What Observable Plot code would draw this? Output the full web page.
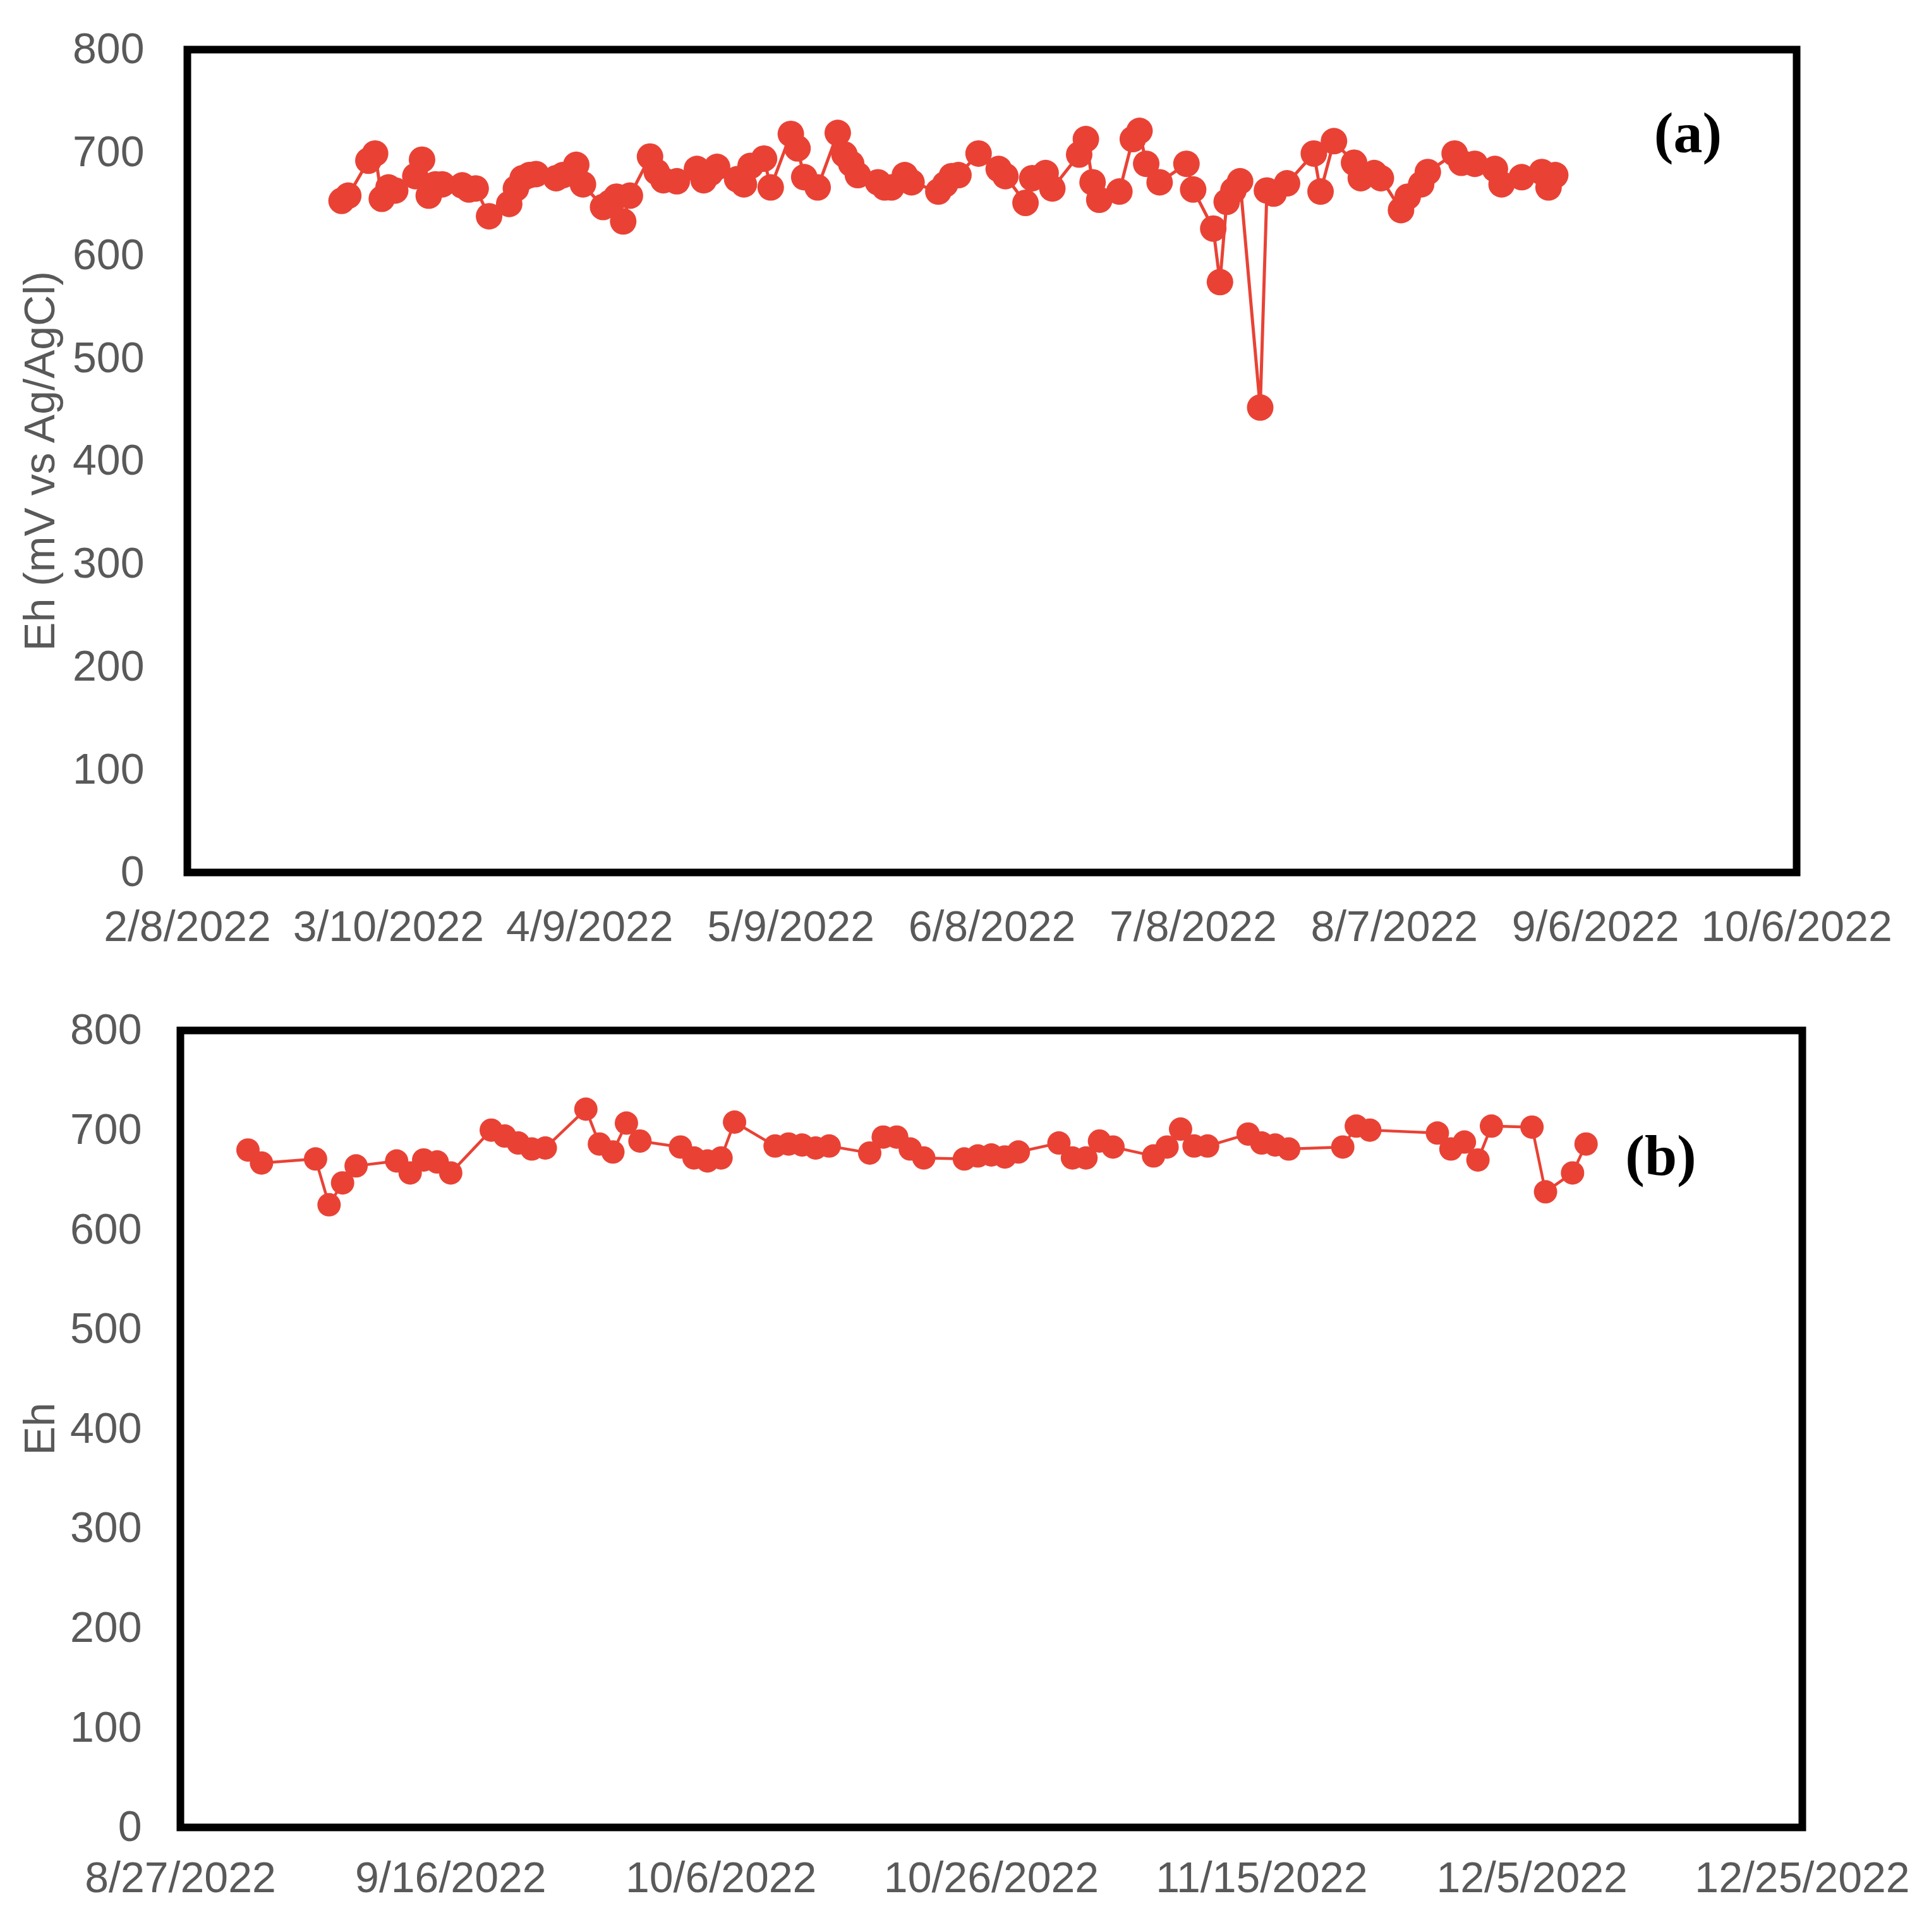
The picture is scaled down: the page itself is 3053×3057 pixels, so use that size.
<!DOCTYPE html>
<html>
<head>
<meta charset="utf-8">
<script src="https://cdn.jsdelivr.net/npm/d3@7"></script>
<script src="https://cdn.jsdelivr.net/npm/@observablehq/plot@0.6"></script>
<style>
  html, body { margin: 0; padding: 0; background: #fff; }
  svg { display: block; }
</style>
</head>
<body>
<div id="chart"></div>
<script>
// ---------- Panel (a) data ----------
const datesA = [
  "2022-03-03","2022-03-04","2022-03-07","2022-03-08","2022-03-09","2022-03-10","2022-03-11",
  "2022-03-14","2022-03-15","2022-03-16","2022-03-17","2022-03-18","2022-03-21","2022-03-22",
  "2022-03-23","2022-03-25","2022-03-28","2022-03-29","2022-03-30","2022-03-31","2022-04-01",
  "2022-04-04","2022-04-05","2022-04-07","2022-04-08","2022-04-11","2022-04-12","2022-04-13",
  "2022-04-14","2022-04-15","2022-04-18","2022-04-19","2022-04-20","2022-04-22","2022-04-25",
  "2022-04-26","2022-04-27","2022-04-28","2022-05-01","2022-05-02","2022-05-03","2022-05-05",
  "2022-05-06","2022-05-09","2022-05-10","2022-05-11","2022-05-13","2022-05-16","2022-05-17",
  "2022-05-18","2022-05-19","2022-05-22","2022-05-23","2022-05-24","2022-05-26","2022-05-27",
  "2022-05-31","2022-06-01","2022-06-02","2022-06-03","2022-06-06","2022-06-09","2022-06-10",
  "2022-06-13","2022-06-14","2022-06-16","2022-06-17","2022-06-21","2022-06-22","2022-06-23",
  "2022-06-24","2022-06-27","2022-06-29","2022-06-30","2022-07-01","2022-07-03","2022-07-07",
  "2022-07-08","2022-07-11","2022-07-12","2022-07-13","2022-07-14","2022-07-15","2022-07-18",
  "2022-07-19","2022-07-20","2022-07-22","2022-07-26","2022-07-27","2022-07-29","2022-08-01",
  "2022-08-02","2022-08-04","2022-08-05","2022-08-08","2022-08-09","2022-08-11","2022-08-12",
  "2022-08-16","2022-08-17","2022-08-19","2022-08-22","2022-08-23","2022-08-26","2022-08-29",
  "2022-08-30","2022-08-31"
];
const ehA = [
  653, 658, 692, 699, 655, 666, 663,
  677, 693, 658, 669, 669, 668, 664,
  665, 638, 650, 665, 675, 678, 679,
  675, 678, 688, 669, 647, 651, 657,
  633, 658, 696, 681, 673, 672, 684,
  673, 680, 686, 674, 669, 687, 694,
  666, 718, 704, 676, 666, 719, 698,
  689, 678, 671, 666, 666, 678, 671,
  662, 669, 677, 678, 699, 684, 677,
  651, 675, 680, 665, 698, 713, 671,
  654, 662, 713, 721, 689, 671, 689,
  664, 626, 574, 652, 663, 672, 452,
  663, 660, 670, 699, 662, 711, 690,
  675, 680, 675, 644, 657, 669, 681,
  699, 690, 689, 684, 669, 676, 681,
  666, 678
];
const ticksA = ["2022-02-08","2022-03-10","2022-04-09","2022-05-09","2022-06-08",
                "2022-07-08","2022-08-07","2022-09-06","2022-10-06"];

// ---------- Panel (b) data ----------
const datesB = [
  "2022-09-01","2022-09-02","2022-09-06","2022-09-07","2022-09-08","2022-09-09","2022-09-12",
  "2022-09-13","2022-09-14","2022-09-15","2022-09-16","2022-09-19","2022-09-20","2022-09-21",
  "2022-09-22","2022-09-23","2022-09-26","2022-09-27","2022-09-28","2022-09-29","2022-09-30",
  "2022-10-03","2022-10-04","2022-10-05","2022-10-06","2022-10-07","2022-10-10","2022-10-11",
  "2022-10-12","2022-10-13","2022-10-14","2022-10-17","2022-10-18","2022-10-19","2022-10-20",
  "2022-10-21","2022-10-24","2022-10-25","2022-10-26","2022-10-27","2022-10-28","2022-10-31",
  "2022-11-01","2022-11-02","2022-11-03","2022-11-04","2022-11-07","2022-11-08","2022-11-09",
  "2022-11-10","2022-11-11","2022-11-14","2022-11-15","2022-11-16","2022-11-17","2022-11-21",
  "2022-11-22","2022-11-23","2022-11-28","2022-11-29","2022-11-30","2022-12-01","2022-12-02",
  "2022-12-05","2022-12-06","2022-12-08","2022-12-09"
];
const ehB = [
  680, 667, 671, 625, 647, 664, 669,
  657, 670, 668, 657, 700, 694, 687,
  681, 682, 721, 686, 678, 707, 689,
  683, 672, 669, 672, 708, 684, 686,
  685, 682, 684, 677, 693, 693, 681,
  672, 671, 674, 675, 673, 678, 687,
  672, 672, 689, 683, 674, 683, 701,
  684, 684, 696, 687, 685, 681, 683,
  704, 700, 697, 681, 688, 670, 704,
  703, 638, 657, 686
];
const ticksB = ["2022-08-27","2022-09-16","2022-10-06","2022-10-26","2022-11-15",
                "2022-12-05","2022-12-25"];

const yTicks = [0, 100, 200, 300, 400, 500, 600, 700, 800];
const yTitleA = "Eh (mV vs Ag/AgCl)";
const yTitleB = "Eh";
const panelLabelA = "(a)";
const panelLabelB = "(b)";

// ---------- drawing ----------
const RED = "#E94235";
const GREY = "#595959";
const fmt = d3.utcFormat("%-m/%-d/%Y");
const toDate = s => new Date(s + "T00:00:00Z");

function panel({dates, values, ticks, title, label, height, mt, mb, ml, mr,
                xPad, yPad, titleDx, labelDx, labelDy, r, lw}) {
  const data = dates.map((d, i) => ({date: toDate(d), eh: values[i]}));
  const tickDates = ticks.map(toDate);
  return Plot.plot({
    width: 3053,
    height,
    marginTop: mt, marginBottom: mb, marginLeft: ml, marginRight: mr,
    style: {fontFamily: "'Liberation Sans', Arial, sans-serif", fontSize: "68px", color: GREY, background: "#fff"},
    x: {type: "utc", domain: [tickDates[0], tickDates[tickDates.length - 1]]},
    y: {domain: [0, 800]},
    marks: [
      Plot.axisX({ticks: tickDates, tickFormat: fmt, tickSize: 0, tickPadding: xPad,
                  fontSize: 68, fill: GREY, label: null}),
      Plot.axisY({ticks: yTicks, tickSize: 0, tickPadding: yPad,
                  fontSize: 68, fill: GREY, label: null}),
      Plot.line(data, {x: "date", y: "eh", stroke: RED, strokeWidth: lw}),
      Plot.dot(data, {x: "date", y: "eh", r, fill: RED, stroke: "none"}),
      Plot.frame({stroke: "#000", strokeWidth: 12}),
      Plot.text([title], {text: d => d, frameAnchor: "left", rotate: -90, dx: titleDx,
                          fontSize: 68, fill: GREY, textAnchor: "middle", lineAnchor: "middle"}),
      Plot.text([label], {text: d => d, frameAnchor: "top-right", dx: labelDx, dy: labelDy,
                          fontSize: 92, fontWeight: "bold", fill: "#000",
                          fontFamily: "'Liberation Serif', 'Times New Roman', serif",
                          textAnchor: "middle", lineAnchor: "middle"})
    ]
  });
}

const chart = document.getElementById("chart");
chart.appendChild(panel({
  dates: datesA, values: ehA, ticks: ticksA, title: yTitleA, label: panelLabelA,
  height: 1540, mt: 78, mb: 160, ml: 296, mr: 210, xPad: 60, yPad: 68,
  titleDx: -232, labelDx: -172, labelDy: 133, r: 21, lw: 5
}));
chart.appendChild(panel({
  dates: datesB, values: ehB, ticks: ticksB, title: yTitleB, label: panelLabelB,
  height: 1517, mt: 90, mb: 166, ml: 285, mr: 201, xPad: 54, yPad: 61,
  titleDx: -221, labelDx: -224, labelDy: 199, r: 18.5, lw: 4.5
}));
</script>
</body>
</html>
